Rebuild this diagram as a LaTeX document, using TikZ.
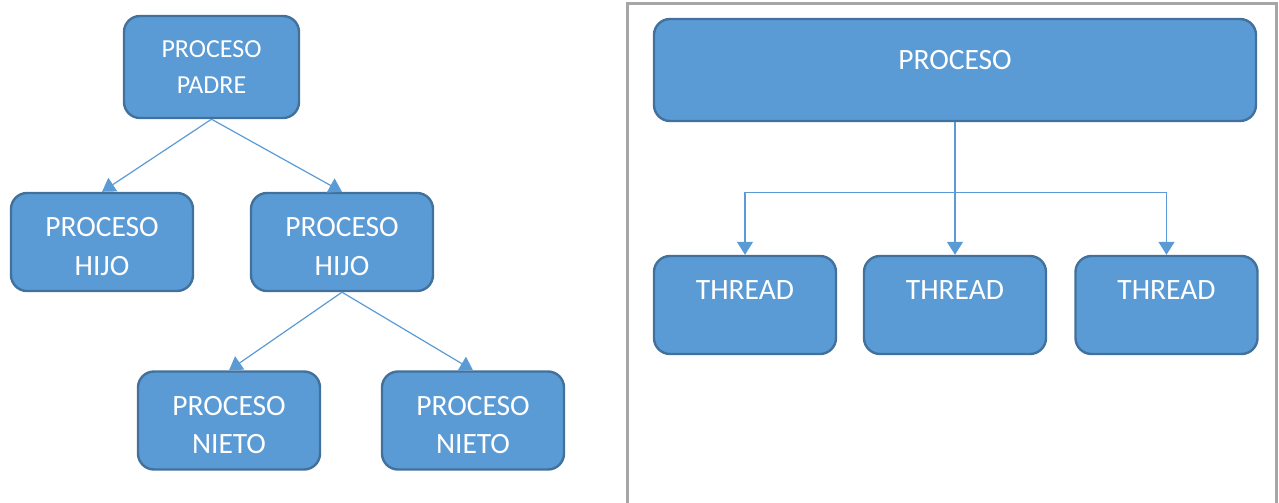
\documentclass[tikz,border=0pt]{standalone}
\usepackage{fontspec}
\setmainfont{Carlito}
\usetikzlibrary{arrows.meta}
\definecolor{boxfill}{HTML}{5B9BD5}
\definecolor{boxedge}{HTML}{41719C}
\definecolor{framegray}{HTML}{A6A6A6}
\begin{document}
\begin{tikzpicture}[x=1pt,y=-1pt,
  box/.style={draw=boxedge, fill=boxfill, line width=2.4pt, rounded corners=16pt,
    text=white, align=center, inner sep=0pt,
    font=\fontsize{29.5}{38.5}\selectfont},
  smallbox/.style={box, minimum width=182pt, minimum height=98pt},
  twoline/.style={smallbox, text height=81.5pt, text depth=15.5pt},
  oneline/.style={smallbox, text height=20pt, text depth=31.6pt},
  arr/.style={draw=boxfill, line width=1.2pt, -{Triangle[length=13pt,width=16pt]}}]
  \useasboundingbox (0,0) rectangle (1279,503);

  % frame round the thread diagram, open at the bottom
  \draw[framegray, line width=3pt] (627,503) -- (627,3.5) -- (1276.5,3.5) -- (1276.5,503);

  % process tree
  \node[box, minimum width=175pt, minimum height=102pt,
        font=\fontsize{26}{36}\selectfont] (padre) at (211.5,67) {PROCESO\\PADRE};
  \node[twoline] (hijoA) at (102,242) {PROCESO\\HIJO};
  \node[twoline] (hijoB) at (342,242) {PROCESO\\HIJO};
  \node[twoline] (nietoA) at (229,420.5) {PROCESO\\NIETO};
  \node[twoline] (nietoB) at (473,420.5) {PROCESO\\NIETO};

  \draw[arr] (padre.south) -- (hijoA.north);
  \draw[arr] (padre.south) -- (hijoB.north);
  \draw[arr] (hijoB.south) -- (nietoA.north);
  \draw[arr] (hijoB.south) -- (nietoB.north);

  % process with threads
  \node[box, minimum width=602pt, minimum height=102pt,
        text height=20pt, text depth=21.6pt] (proc) at (955,70) {PROCESO};
  \node[oneline] (thA) at (745,305) {THREAD};
  \node[oneline] (thB) at (955,305) {THREAD};
  \node[oneline] (thC) at (1166.5,305) {THREAD};

  \coordinate (split) at (955,192.5);
  \draw[arr] (proc.south) -- (thB.north);
  \draw[arr] (split) -| (thA.north);
  \draw[arr] (split) -| (thC.north);
\end{tikzpicture}
\end{document}
